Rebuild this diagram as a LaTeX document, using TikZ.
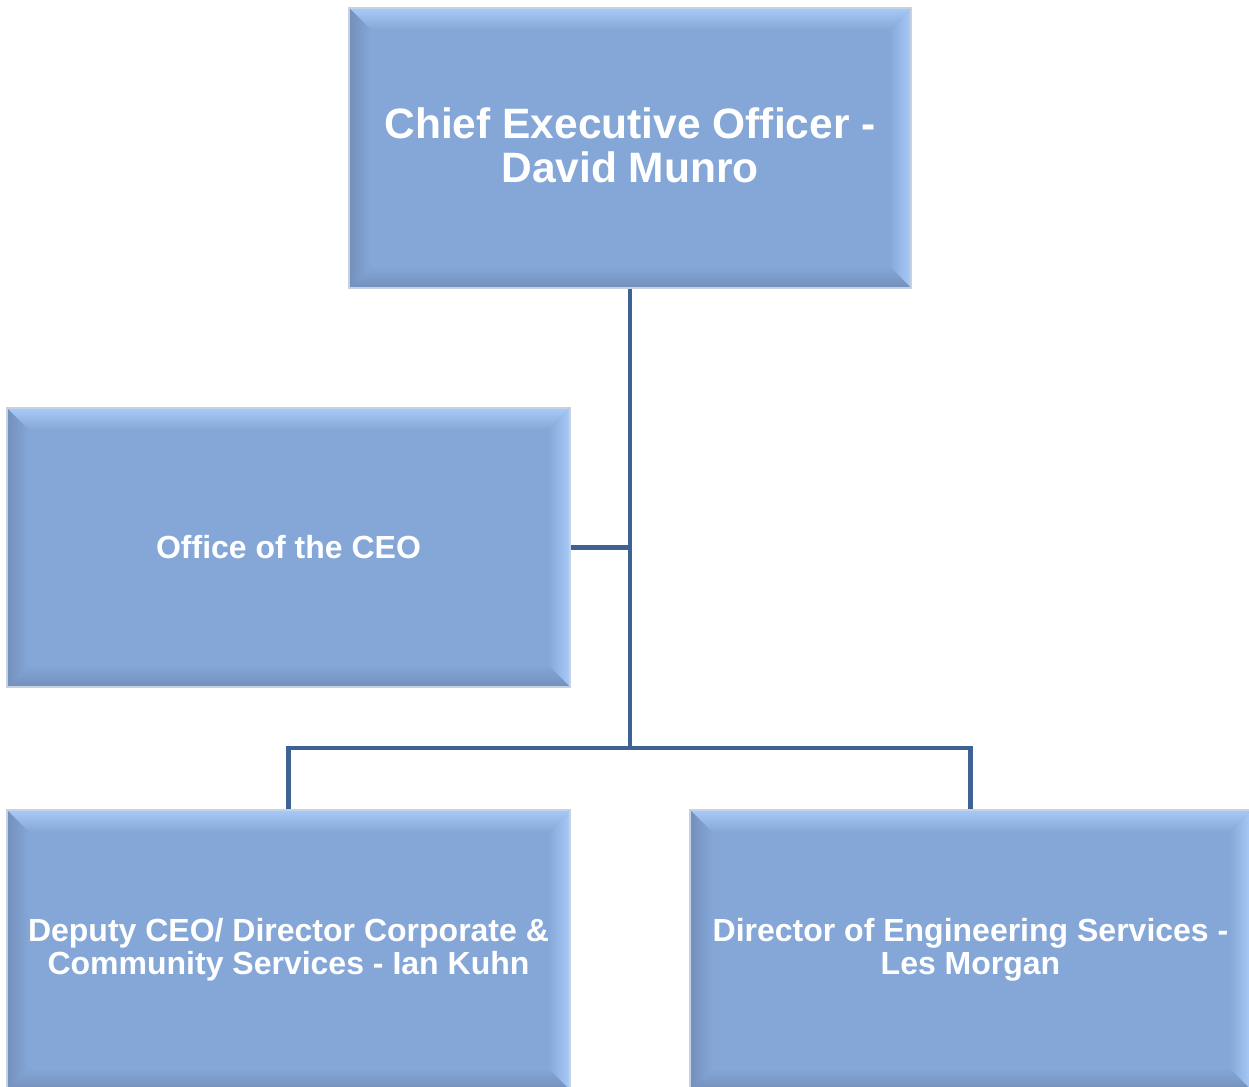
\documentclass[tikz,border=0pt]{standalone}
\usepackage{fontspec}
\setmainfont{Liberation Sans}
\usetikzlibrary{calc}
\definecolor{base}{HTML}{84A7D8}
\definecolor{lite}{HTML}{A8CAF8}
\definecolor{dark}{HTML}{7490BC}
\definecolor{edge}{HTML}{C6D2E4}
\definecolor{conn}{HTML}{3D6293}
\tikzset{
  box/.style={fill=base, draw=edge, line width=1.2pt, text=white, font=\bfseries,
    align=center, inner sep=0pt,
    path picture={
      \coordinate (nw) at (path picture bounding box.north west);
      \coordinate (ne) at (path picture bounding box.north east);
      \coordinate (sw) at (path picture bounding box.south west);
      \coordinate (se) at (path picture bounding box.south east);
      \shade[top color=lite, bottom color=base] (nw) -- (ne) -- ($(ne)+(-22,22)$) -- ($(nw)+(22,22)$) -- cycle;
      \shade[left color=dark, right color=base] (nw) -- ($(nw)+(22,22)$) -- ($(sw)+(22,-22)$) -- (sw) -- cycle;
      \shade[left color=base, right color=lite] (ne) -- ($(ne)+(-22,22)$) -- ($(se)+(-22,-22)$) -- (se) -- cycle;
      \shade[top color=base, bottom color=dark] (sw) -- ($(sw)+(22,-22)$) -- ($(se)+(-22,-22)$) -- (se) -- cycle;
    }},
  bigtxt/.style={font=\bfseries\fontsize{42.5}{44}\selectfont},
  smalltxt/.style={font=\bfseries\fontsize{32}{33}\selectfont},
  connline/.style={draw=conn, line width=4.5pt}
}
\begin{document}
\begin{tikzpicture}[x=1pt,y=-1pt]
\useasboundingbox (0,0) rectangle (1249,1086);
\begin{scope}
\clip (0,0) rectangle (1249,1086);
\node[box, minimum width=562pt, minimum height=280pt] (ceo) at (630,148) {};
\node[bigtxt, text=white, align=center, inner sep=0pt] (ceotext) at (630,145) {Chief Executive Officer -\\David Munro};
\node[box, minimum width=563pt, minimum height=279pt, smalltxt] (office) at (288.5,547.5) {Office of the CEO};
\node[box, minimum width=563pt, minimum height=280pt, smalltxt] (dep) at (288.5,950) {Deputy CEO/ Director Corporate \&\\Community Services - Ian Kuhn};
\node[box, minimum width=561pt, minimum height=280pt, smalltxt] (eng) at (970.5,950) {Director of Engineering Services -\\Les Morgan};
\end{scope}
\coordinate (j) at (630,748);
\draw[connline] (ceo.south) -- (j);
\draw[connline] (office.east) -- (office.east -| j);
\draw[connline] (dep.north) |- (j) -| (eng.north);
\end{tikzpicture}
\end{document}
